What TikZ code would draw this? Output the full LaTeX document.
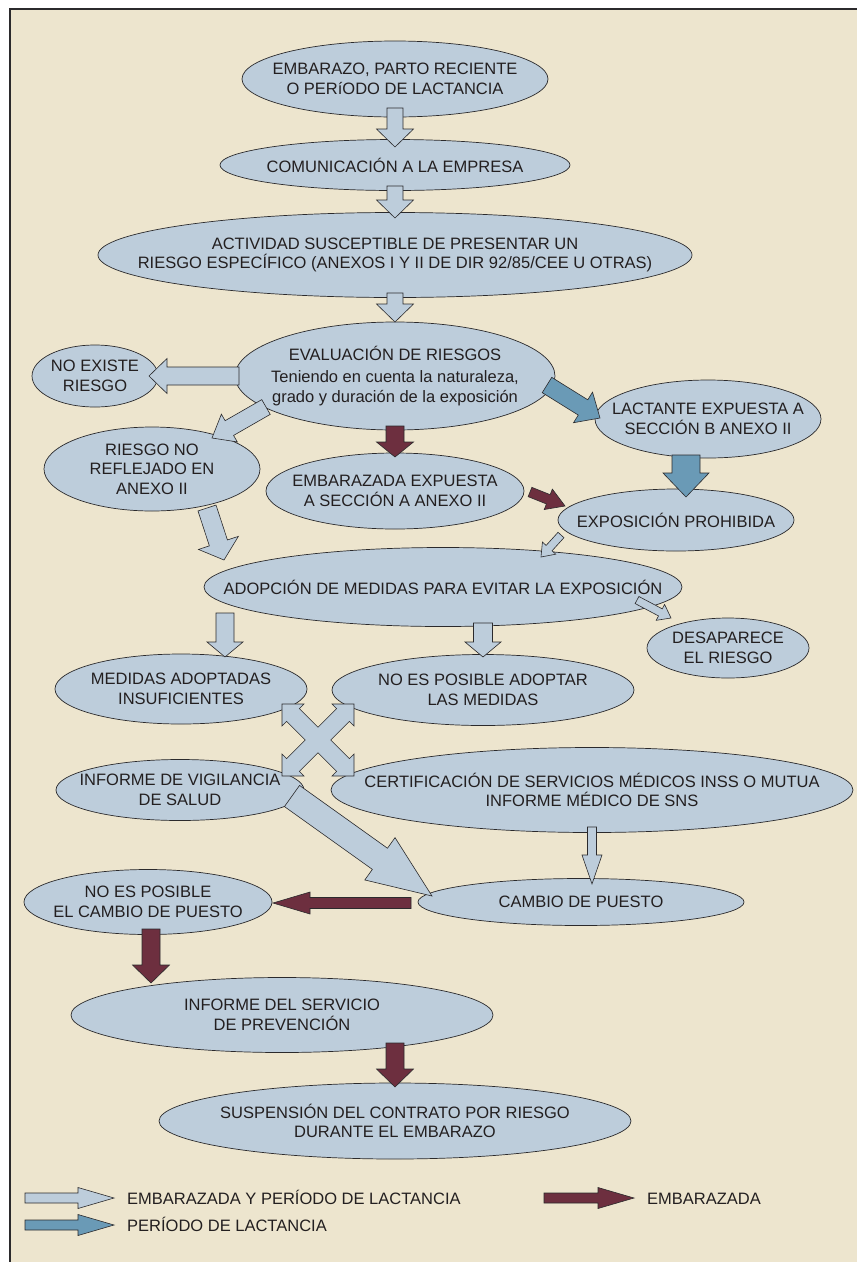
\documentclass[tikz,border=0pt]{standalone}
\usepackage{fontspec}
\setmainfont{Liberation Sans}
\usetikzlibrary{calc,shapes.geometric}
\definecolor{bgbeige}{HTML}{EDE5CE}
\definecolor{bubblefill}{HTML}{BDCDDB}
\definecolor{edgecol}{HTML}{2B2A2C}
\definecolor{wine}{HTML}{6D2F3F}
\definecolor{steel}{HTML}{6A9AB6}
\definecolor{inkcol}{HTML}{231F20}
\tikzset{
  bubble/.style     = {ellipse, draw=edgecol, fill=bubblefill, line width=0.7pt, inner sep=0pt},
  txt/.style        = {font=\fontsize{16.5}{19.5}\selectfont, text=inkcol, align=center, inner sep=0pt},
  both arrow/.style = {draw=edgecol, fill=bubblefill, line width=0.6pt, line join=miter},
  preg arrow/.style = {draw=edgecol, fill=wine, line width=0.6pt, line join=miter},
  lact arrow/.style = {draw=edgecol, fill=steel, line width=0.6pt, line join=miter},
  frame line/.style = {draw=edgecol, line width=1.2pt},
}
% block arrow: style, tail, tip, half shaft width, half head width, head length
\newcommand{\blockarrow}[6]{%
  \coordinate (ba-a) at #2;
  \coordinate (ba-b) at #3;
  \coordinate (ba-h) at ($(ba-b)!#6!(ba-a)$);
  \draw[#1] ($(ba-a)!#4!90:(ba-b)$) -- ($(ba-h)!#4!90:(ba-b)$) -- ($(ba-h)!#5!90:(ba-b)$)
    -- (ba-b) -- ($(ba-h)!#5!-90:(ba-b)$) -- ($(ba-h)!#4!-90:(ba-b)$)
    -- ($(ba-a)!#4!-90:(ba-b)$) -- cycle;
}
\begin{document}
\begin{tikzpicture}[x=1pt, y=1pt]

  % ---- page and beige panel ----------------------------------------------
  \useasboundingbox (0,0) rectangle (857,-1262);
  \fill[white] (0,0) rectangle (857,-1262);
  \fill[bgbeige] (10,-9) rectangle (857,-1262);
  \draw[frame line] (857,-9) -- (10,-9) -- (10,-1262);

  % ---- the steps ---------------------------------------------------------
  \node[bubble, minimum width=306, minimum height=76,
        label={[txt]center:{EMBARAZO, PARTO RECIENTE\\O PERíODO DE LACTANCIA}}] (embarazo) at (395,-79) {};
  \node[bubble, minimum width=350, minimum height=51,
        label={[txt]center:{COMUNICACIÓN A LA EMPRESA}}] (comunic) at (395,-165) {};
  \node[bubble, minimum width=594, minimum height=85,
        label={[txt]center:{ACTIVIDAD SUSCEPTIBLE DE PRESENTAR UN\\RIESGO ESPECÍFICO (ANEXOS I Y II DE DIR 92/85/CEE U OTRAS)}}] (actividad) at (395,-255) {};
  \node[bubble, minimum width=320, minimum height=108,
        label={[txt]center:{EVALUACIÓN DE RIESGOS\\[3pt]Teniendo en cuenta la naturaleza,\\grado y duración de la exposición}}] (evalua) at (395,-376) {};
  \node[bubble, minimum width=126, minimum height=62,
        label={[txt]center:{NO EXISTE\\RIESGO}}] (noexiste) at (95,-376) {};
  \node[bubble, minimum width=226, minimum height=78,
        label={[txt]center:{LACTANTE EXPUESTA A\\SECCIÓN B ANEXO II}}] (lactante) at (708,-419) {};
  \node[bubble, minimum width=216, minimum height=84,
        label={[txt]center:{RIESGO NO\\REFLEJADO EN\\ANEXO II}}] (riesgono) at (152,-469) {};
  \node[bubble, minimum width=258, minimum height=76,
        label={[txt]center:{EMBARAZADA EXPUESTA\\A SECCIÓN A ANEXO II}}] (embexp) at (395,-491) {};
  \node[bubble, minimum width=236, minimum height=62,
        label={[txt]center:{EXPOSICIÓN PROHIBIDA}}] (prohibida) at (676,-520) {};
  \node[bubble, minimum width=478, minimum height=79,
        label={[txt]center:{ADOPCIÓN DE MEDIDAS PARA EVITAR LA EXPOSICIÓN}}] (adopcion) at (443,-587) {};
  \node[bubble, minimum width=162, minimum height=60,
        label={[txt]center:{DESAPARECE\\EL RIESGO}}] (desaparece) at (728,-648) {};
  \node[bubble, minimum width=252, minimum height=70,
        label={[txt]center:{MEDIDAS ADOPTADAS\\INSUFICIENTES}}] (insuf) at (181,-689) {};
  \node[bubble, minimum width=302, minimum height=71,
        label={[txt]center:{NO ES POSIBLE ADOPTAR\\LAS MEDIDAS}}] (noposible) at (483,-690) {};
  \node[bubble, minimum width=248, minimum height=61,
        label={[txt]center:{INFORME DE VIGILANCIA\\DE SALUD}}] (vigilancia) at (180,-790) {};
  \node[bubble, minimum width=522, minimum height=85,
        label={[txt]center:{CERTIFICACIÓN DE SERVICIOS MÉDICOS INSS O MUTUA\\INFORME MÉDICO DE SNS}}] (certif) at (592,-790) {};
  \node[bubble, minimum width=326, minimum height=47,
        label={[txt]center:{CAMBIO DE PUESTO}}] (cambio) at (581,-902) {};
  \node[bubble, minimum width=248, minimum height=65,
        label={[txt]center:{NO ES POSIBLE\\EL CAMBIO DE PUESTO}}] (nocambio) at (148,-902) {};
  \node[bubble, minimum width=422, minimum height=75,
        label={[txt]center:{INFORME DEL SERVICIO\\DE PREVENCIÓN}}] (informe) at (282,-1015) {};
  \node[bubble, minimum width=472, minimum height=76,
        label={[txt]center:{SUSPENSIÓN DEL CONTRATO POR RIESGO\\DURANTE EL EMBARAZO}}] (suspension) at (395,-1121) {};

  % ---- block arrows ------------------------------------------------------
  \blockarrow{both arrow}{($(embarazo)+(0,-29)$)}{($(comunic)+(0,18)$)}{8pt}{18.5pt}{18pt}
  \blockarrow{both arrow}{($(comunic)+(0,-21)$)}{($(actividad)+(0,37)$)}{8pt}{18.5pt}{18pt}
  \blockarrow{both arrow}{($(actividad)+(0,-38)$)}{($(evalua)+(0,54)$)}{8pt}{18.5pt}{18pt}
  \blockarrow{both arrow}{($(evalua)+(-156,0)$)}{($(noexiste)+(54,0)$)}{9pt}{17.5pt}{18pt}
  \blockarrow{lact arrow}{($(evalua)+(152,-9)$)}{($(lactante)+(-108,1)$)}{9pt}{18pt}{20pt}
  \blockarrow{both arrow}{($(evalua)+(-129,-31)$)}{($(riesgono)+(60,31)$)}{8.5pt}{16pt}{20pt}
  \blockarrow{preg arrow}{($(evalua)+(0,-50)$)}{($(embexp)+(0,34)$)}{9pt}{18.5pt}{15pt}
  \blockarrow{preg arrow}{($(embexp)+(135,-1)$)}{($(prohibida)+(-111,14)$)}{5pt}{11pt}{18pt}
  \blockarrow{lact arrow}{($(lactante)+(-22,-36)$)}{($(prohibida)+(10,23)$)}{14pt}{23pt}{24pt}
  \blockarrow{both arrow}{($(riesgono)+(55,-39)$)}{($(adopcion)+(-219,27)$)}{9.5pt}{21pt}{18pt}
  \blockarrow{both arrow}{($(prohibida)+(-115,-15)$)}{($(adopcion)+(98,30)$)}{4pt}{9pt}{12pt}
  \blockarrow{both arrow}{($(adopcion)+(194,-13)$)}{($(desaparece)+(-57,30)$)}{4pt}{9pt}{12pt}
  \blockarrow{both arrow}{($(adopcion)+(-218,-26)$)}{($(insuf)+(44,32)$)}{9pt}{18pt}{15pt}
  \blockarrow{both arrow}{($(adopcion)+(40,-36)$)}{($(noposible)+(0,33)$)}{9.5pt}{18pt}{15pt}
  \blockarrow{both arrow}{($(vigilancia)+(112,-6)$)}{($(cambio)+(-149,6)$)}{13pt}{26pt}{64pt}
  \blockarrow{both arrow}{($(certif)+(0,-37)$)}{($(cambio)+(11,18)$)}{4.5pt}{10pt}{29pt}
  \blockarrow{preg arrow}{($(cambio)+(-170,-1)$)}{($(nocambio)+(125,-1)$)}{5.5pt}{11pt}{37pt}
  \blockarrow{preg arrow}{($(nocambio)+(3,-27)$)}{($(informe)+(-131,32)$)}{9pt}{18.5pt}{18pt}
  \blockarrow{preg arrow}{($(informe)+(113,-28)$)}{($(suspension)+(0,34)$)}{9pt}{18.5pt}{18pt}

  % four-way arrow between the measures and the reports
  \draw[both arrow, shift={($(vigilancia)+(138,50)$)}]
    (-12.7,0) -- (-31.4,18.6) -- (-36,14) -- (-36,36) -- (-14,36) -- (-18.6,31.4)
    -- (0,12.7) -- (18.6,31.4) -- (14,36) -- (36,36) -- (36,14) -- (31.4,18.6)
    -- (12.7,0) -- (31.4,-18.6) -- (36,-14) -- (36,-36) -- (14,-36) -- (18.6,-31.4)
    -- (0,-12.7) -- (-18.6,-31.4) -- (-14,-36) -- (-36,-36) -- (-36,-14) -- (-31.4,-18.6)
    -- cycle;

  % ---- legend ------------------------------------------------------------
  \coordinate (lg-both-a) at (25,-1198);  \coordinate (lg-both-b) at (114,-1198);
  \coordinate (lg-preg-a) at (544,-1198); \coordinate (lg-preg-b) at (634,-1198);
  \coordinate (lg-lact-a) at (25,-1225);  \coordinate (lg-lact-b) at (114,-1225);
  \blockarrow{both arrow}{(lg-both-a)}{(lg-both-b)}{5pt}{10.5pt}{36pt}
  \blockarrow{preg arrow}{(lg-preg-a)}{(lg-preg-b)}{5pt}{10.5pt}{36pt}
  \blockarrow{lact arrow}{(lg-lact-a)}{(lg-lact-b)}{5pt}{10.5pt}{36pt}
  \node[txt, anchor=base west] (lg-both-t) at (127,-1204) {EMBARAZADA Y PERÍODO DE LACTANCIA};
  \node[txt, anchor=base west] (lg-preg-t) at (647,-1204) {EMBARAZADA};
  \node[txt, anchor=base west] (lg-lact-t) at (127,-1231) {PERÍODO DE LACTANCIA};
\end{tikzpicture}
\end{document}
